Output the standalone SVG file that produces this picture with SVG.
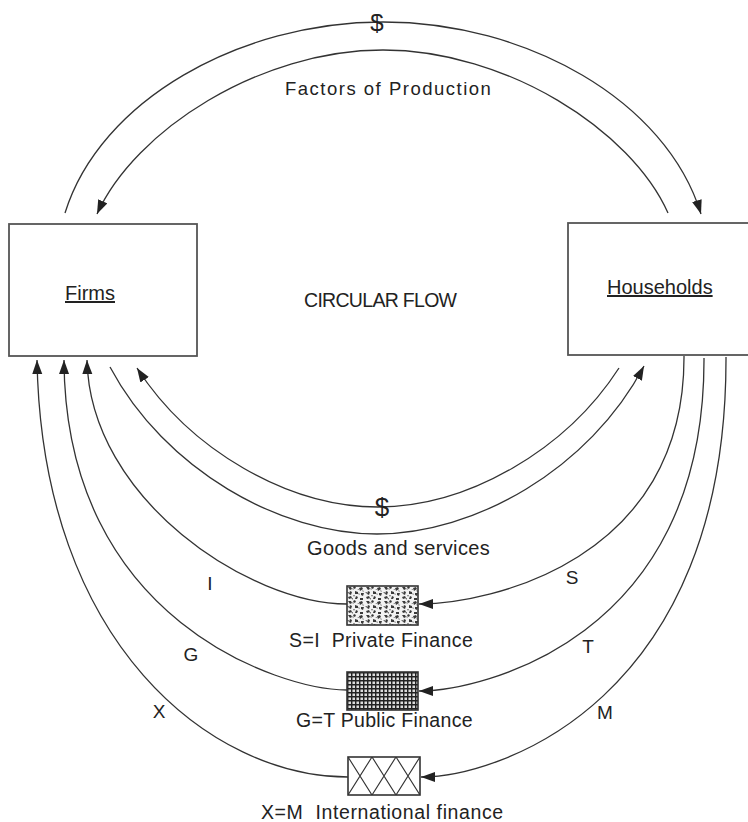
<svg xmlns="http://www.w3.org/2000/svg" width="748" height="822" viewBox="0 0 748 822">
<style>
  text { font-family: "Liberation Sans", Arial, sans-serif; fill: #222; }
  .box { fill: #fff; stroke: #555; stroke-width: 1.8; }
  .fbox { stroke: #333; stroke-width: 1.6; }
  .arr { fill: none; stroke: #333; stroke-width: 1.3; marker-end: url(#ah); }
  .node { font-size: 20px; text-decoration: underline; }
  .lbl { font-size: 19px; text-anchor: middle; }
  .cap { font-size: 19.5px; white-space: pre; }
</style>
<defs>
  <marker id="ah" markerUnits="userSpaceOnUse" markerWidth="16" markerHeight="12" refX="14" refY="5" orient="auto">
    <path d="M0,0 L14,5 L0,10 z" fill="#222"/>
  </marker>
  <pattern id="speckle" patternUnits="userSpaceOnUse" width="18" height="14" x="347" y="586">
    <rect width="18" height="14" fill="#f2f2f2"/>
    <path d="M1,1 l3,0 l1,2 l-2,1z M7,0 l2,1 l-1,2 l-2,-1z M12,2 l3,-1 l1,2 l-3,2z M3,5 l2,1 l-1,3 l-2,-1z M8,5 l3,1 l0,2 l-3,0z M14,7 l3,0 l-1,3 l-2,-1z M1,11 l3,-1 l1,2 l-3,1z M9,10 l2,1 l-1,2 l-2,0z M13,12 l3,0 l0,2 l-3,0z" fill="#3a3a3a"/>
    <path d="M5,2 l2,1 l-1,1z M10,3 l2,0 l0,1z M0,6 l2,0 l0,2z M6,9 l2,0 l-1,2z M15,4 l2,1 l-1,1z M11,7 l2,1 l-1,1z M4,12 l2,0 l0,2z" fill="#777"/>
  </pattern>
  <pattern id="grid" patternUnits="userSpaceOnUse" width="4" height="4" x="347" y="672">
    <rect width="4" height="4" fill="#ddd"/>
    <path d="M0,0.7 H4 M0.7,0 V4" stroke="#222" stroke-width="1.5"/>
  </pattern>
  <pattern id="hatch" patternUnits="userSpaceOnUse" width="24" height="38" x="348" y="757">
    <rect width="24" height="38" fill="#fff"/>
    <path d="M0,0 L24,38 M24,0 L0,38" stroke="#333" stroke-width="1.2"/>
  </pattern>
</defs>

<g id="connectors">
  <path class="arr" d="M65,213 C100,100 240,22 383,22 C526,22 666,100 701,214"/>
  <path class="arr" d="M668,213 C631,130 506,50 383,50 C260,50 135,130 97,214"/>
  <path class="arr" d="M619,368 C566,450 468,507 378,507 C288,507 190,450 137,368"/>
  <path class="arr" d="M110,367 C165,470 280,534 377,534 C474,534 589,470 644,366"/>
  <path class="arr" d="M684,356 C685,560 490,604 419,604"/>
  <path class="arr" d="M704,358 C705,640 480,691 419,691"/>
  <path class="arr" d="M726,357 C727,700 500,777 421,777"/>
  <path class="arr" d="M347,604 C250,604 90,500 87,360"/>
  <path class="arr" d="M347,690 C280,690 65,620 64,360"/>
  <path class="arr" d="M348,777 C212,777 42,645 37,360"/>
</g>

<g id="firms">
  <rect class="box" x="9" y="224" width="188" height="132"/>
  <text class="node" x="65" y="300">Firms</text>
</g>

<g id="households">
  <rect class="box" x="568" y="223" width="190" height="132"/>
  <text class="node" x="607" y="294">Households</text>
</g>

<g id="private-finance">
  <rect class="fbox" x="347" y="586" width="71" height="39" fill="url(#speckle)"/>
  <text class="cap" x="289" y="647" letter-spacing="0.4" xml:space="preserve">S=I  Private Finance</text>
</g>

<g id="public-finance">
  <rect class="fbox" x="347" y="672" width="71" height="38" fill="url(#grid)"/>
  <text class="cap" x="296" y="727" letter-spacing="0.3">G=T Public Finance</text>
</g>

<g id="international-finance">
  <rect class="fbox" x="348" y="757" width="72" height="38" fill="url(#hatch)"/>
  <text class="cap" x="261" y="819" letter-spacing="0.6" xml:space="preserve">X=M  International finance</text>
</g>

<g id="labels">
  <text x="377" y="31" font-size="24" text-anchor="middle">$</text>
  <text x="285" y="95" font-size="18.5" letter-spacing="1.5">Factors of Production</text>
  <text x="304" y="307" font-size="19.5" letter-spacing="-0.7">CIRCULAR FLOW</text>
  <text x="382" y="516" font-size="26" text-anchor="middle">$</text>
  <text x="307" y="555" font-size="20" letter-spacing="0.35">Goods and services</text>
  <text class="lbl" x="210" y="590">I</text>
  <text class="lbl" x="572" y="584">S</text>
  <text class="lbl" x="191" y="661">G</text>
  <text class="lbl" x="588" y="653">T</text>
  <text class="lbl" x="159" y="718">X</text>
  <text class="lbl" x="605" y="719">M</text>
</g>
</svg>
